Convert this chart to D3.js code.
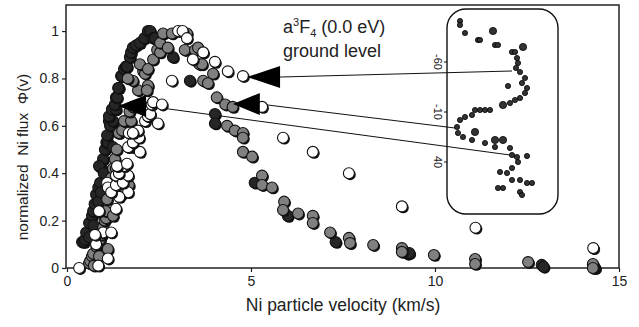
<!DOCTYPE html>
<html>
<head>
<meta charset="utf-8">
<script src="https://cdn.jsdelivr.net/npm/d3@7"></script>
<style>
  body { margin: 0; background: #fff; }
  svg { display: block; font-family: "Liberation Sans", Arial, sans-serif; }
</style>
</head>
<body>
<svg id="chart" width="639" height="327"></svg>
<script>
// values: [velocity km/s, normalized flux]
const blackPts = [
  [0.41,0.11],[0.46,0.11],[0.49,0.12],[0.52,0.15],[0.60,0.19],[0.60,0.13],[0.68,0.22],[0.71,0.24],
  [0.72,0.18],[0.75,0.27],[0.79,0.31],[0.85,0.34],[0.85,0.28],[0.90,0.36],[0.92,0.32],[0.95,0.42],
  [0.98,0.46],[0.87,0.43],[1.00,0.40],[1.03,0.50],[1.07,0.53],[1.11,0.53],[1.09,0.56],[1.14,0.62],
  [1.17,0.60],[1.25,0.62],[1.25,0.51],[1.14,0.64],[1.22,0.67],[1.33,0.67],[1.30,0.69],[1.33,0.72],
  [1.36,0.72],[1.41,0.76],[1.39,0.76],[1.47,0.81],[1.49,0.81],[1.55,0.84],[1.60,0.85],[1.63,0.85],
  [1.71,0.89],[1.74,0.91],[1.79,0.93],[1.88,0.94],[1.98,0.95],[2.10,0.97],[2.20,1.00],[2.26,1.00],
  [2.34,0.97],[2.39,0.97],[2.88,0.89],[3.34,0.79],[4.02,0.65],[4.02,0.61],[5.10,0.36],[6.00,0.22],
  [7.30,0.11],[9.25,0.06],[9.30,0.063],[12.90,0.013],[12.95,0.005],[14.35,0.0]
];
const grayPts = [
  [0.60,0.02],[0.63,0.03],[0.68,0.05],[0.71,0.06],[0.73,0.01],[0.80,0.09],[0.87,0.05],[0.90,0.12],
  [0.95,0.14],[0.98,0.17],[1.02,0.20],[1.06,0.21],[1.05,0.24],[1.11,0.08],[1.09,0.29],[1.25,0.22],
  [1.17,0.33],[1.20,0.38],[1.25,0.42],[1.33,0.42],[1.30,0.46],[1.35,0.50],[1.47,0.31],[1.39,0.57],
  [1.41,0.57],[1.50,0.58],[1.55,0.62],[1.68,0.35],[1.74,0.62],[1.79,0.51],[1.70,0.66],[1.79,0.68],
  [1.93,0.75],[1.79,0.79],[1.65,0.80],[2.07,0.83],[2.12,0.82],[1.98,0.86],[2.20,0.84],[2.34,0.88],
  [2.45,0.92],[2.53,0.91],[2.53,0.95],[2.61,0.99],[2.74,0.93],[2.85,0.99],[2.20,0.77],[2.17,0.75],
  [3.26,0.99],[3.20,0.92],[3.48,0.92],[3.56,0.93],[3.60,0.86],[3.67,0.86],[3.70,0.79],[3.83,0.78],
  [3.97,0.82],[4.07,0.72],[4.30,0.69],[4.50,0.68],[4.35,0.60],[4.56,0.58],[4.78,0.57],[4.78,0.55],
  [4.78,0.49],[5.03,0.47],[5.30,0.39],[5.30,0.35],[5.57,0.34],[5.90,0.28],[5.87,0.245],[6.28,0.23],
  [6.68,0.22],[6.68,0.19],[7.15,0.15],[7.66,0.127],[7.69,0.105],[8.32,0.097],[9.10,0.084],[9.10,0.068],
  [9.97,0.055],[11.09,0.038],[11.09,0.017],[12.53,0.025],[14.29,0.017],[14.29,0.0]
];
const whitePts = [
  [0.33,0.0],[0.85,0.01],[1.11,0.04],[0.79,0.10],[0.98,0.15],[1.20,0.15],[0.76,0.14],[0.87,0.24],
  [1.33,0.25],[1.66,0.32],[1.42,0.30],[1.09,0.36],[1.11,0.34],[1.20,0.32],[1.33,0.35],[1.33,0.39],
  [1.52,0.36],[1.66,0.39],[1.41,0.40],[1.55,0.43],[1.36,0.43],[1.63,0.44],[1.98,0.49],[1.66,0.51],
  [1.79,0.53],[1.68,0.57],[1.96,0.55],[1.93,0.58],[1.79,0.57],[2.12,0.62],[2.20,0.64],[2.26,0.65],
  [2.47,0.61],[2.30,0.69],[2.34,0.70],[2.58,0.69],[2.85,0.79],[3.02,1.00],[3.14,1.00],[3.26,0.97],
  [3.42,0.88],[3.70,0.91],[4.02,0.87],[4.37,0.83],[4.78,0.81],[5.30,0.68],[5.87,0.55],[6.68,0.49],
  [7.66,0.40],[9.10,0.26],[11.10,0.17],[14.30,0.084]
];

const xTicks = [0, 5, 10, 15];
const yTicks = [0, 0.2, 0.4, 0.6, 0.8, 1];
const yTickLabels = ["0", "0.2", "0.4", "0.6", "0.8", "1"];

// inset (image of the beam), position across box / delay
const insetSmall = [
  [13,-101],[13,-97],[18,-89],[31,-82],[33,-82],[48,-77],[51,-77],[65,-70],[68,-70],[70,-64],
  [71,-59],[69,-54],[73,-50],[78,-44],[75,-39],[80,-34],[78,-29],[61,-36],[73,-24],[68,-22],
  [63,-19],[43,-12],[38,-12],[33,-12],[28,-12],[25,-7],[18,-5],[13,-2],[10,5],[11,11],[16,15],
  [25,18],[38,21],[48,25],[63,26],[65,33],[70,35],[80,34],[71,40],[65,46],[53,50],[60,51],
  [65,58],[73,58],[80,61],[85,61],[51,66],[56,66],[73,70],[75,73]
];
const insetBig = [[46,-91],[76,-75],[56,-17],[28,10],[48,18],[56,18]];
const insetTicks = [-60, -10, 40];

// arrows: tip [v, f], base velocity, target point in the inset
const arrows = [
  { tip: [4.89, 0.806], base: 5.79, target: [65, -51] },
  { tip: [4.51, 0.692], base: 5.24, target: [8, 6] },
  { tip: [1.39, 0.684], base: 2.15, target: [63, 33] }
];

const svg = d3.select("#chart");

const xScale = d3.scaleLinear().domain([0, 15]).range([67, 619]);
const yScale = d3.scaleLinear().domain([0, 1.11]).range([268, 5]);

const insetX = d3.scaleLinear().domain([0, 111]).range([447, 558]);
const insetY = d3.scaleLinear().domain([-113, 92]).range([9, 214]);

// axes
const yAxis = svg.append("g")
  .attr("transform", `translate(${xScale(0) - 1},0)`)
  .call(d3.axisLeft(yScale).tickValues(yTicks).tickSize(4).tickPadding(3)
    .tickFormat((d, i) => yTickLabels[i]));
const xAxis = svg.append("g")
  .attr("transform", `translate(0,${yScale(0)})`)
  .call(d3.axisBottom(xScale).tickValues(xTicks).tickSize(4).tickPadding(4));

[xAxis, yAxis].forEach(a => {
  a.select(".domain").remove();
  a.selectAll("line").attr("stroke", "#222").attr("stroke-width", 1.2);
  a.selectAll("text").attr("font-size", 14).attr("fill", "#222")
    .style("font-family", "'Liberation Sans', Arial, sans-serif");
});

svg.append("rect")
  .attr("x", xScale(0) - 1).attr("y", yScale(1.11))
  .attr("width", xScale(15) - xScale(0) + 1).attr("height", yScale(0) - yScale(1.11))
  .attr("fill", "none").attr("stroke", "#222").attr("stroke-width", 1.5);

svg.append("text")
  .attr("x", (xScale(0) + xScale(15)) / 2).attr("y", 311)
  .attr("text-anchor", "middle").attr("font-size", 17.5).attr("fill", "#222")
  .text("Ni particle velocity (km/s)");

svg.append("text")
  .attr("transform", "translate(28,157) rotate(-90)")
  .attr("text-anchor", "middle").attr("font-size", 15.5).attr("fill", "#222")
  .style("white-space", "pre")
  .text("normalized  Ni flux  \u03A6(v)");

// leader lines under the points
svg.append("g").selectAll("line")
  .data(arrows)
  .join("line")
  .attr("x1", d => xScale(d.base)).attr("y1", d => yScale(d.tip[1]))
  .attr("x2", d => insetX(d.target[0])).attr("y2", d => insetY(d.target[1]))
  .attr("stroke", "#111").attr("stroke-width", 1);

// scatter, each marker with a dark offset shadow
const series = [
  { pts: blackPts, fill: "#262626" },
  { pts: grayPts, fill: "#808080" },
  { pts: whitePts, fill: "#ffffff" }
];
const r = 5.5;
series.forEach(s => {
  const g = svg.append("g").selectAll("g")
    .data(s.pts)
    .join("g")
    .attr("transform", d => `translate(${xScale(d[0])},${yScale(d[1])})`);
  g.append("circle").attr("cx", 1.4).attr("cy", 1.4).attr("r", r).attr("fill", "#111");
  g.append("circle").attr("r", r).attr("fill", s.fill)
    .attr("stroke", "#111").attr("stroke-width", 1.1);
});

// arrow heads
svg.append("g").selectAll("path")
  .data(arrows)
  .join("path")
  .attr("d", d => {
    const tx = xScale(d.tip[0]), ty = yScale(d.tip[1]), bx = xScale(d.base);
    return `M${tx},${ty}L${bx},${ty - 11}L${bx},${ty + 11}Z`;
  })
  .attr("fill", "#000");

// label
const lab = svg.append("text").attr("x", 283).attr("y", 33)
  .attr("font-size", 18).attr("fill", "#222");
lab.append("tspan").text("a");
lab.append("tspan").attr("font-size", 11).attr("dy", -7).text("3");
lab.append("tspan").attr("dy", 7).text("F");
lab.append("tspan").attr("font-size", 11).attr("dy", 4).text("4");
lab.append("tspan").attr("dy", -4).text(" (0.0 eV)");
svg.append("text").attr("x", 283).attr("y", 57)
  .attr("font-size", 18).attr("fill", "#222").text("ground level");

// inset
svg.append("rect")
  .attr("x", insetX(0)).attr("y", insetY(-113))
  .attr("width", insetX(111) - insetX(0)).attr("height", insetY(92) - insetY(-113))
  .attr("rx", 19).attr("fill", "none").attr("stroke", "#111").attr("stroke-width", 1.4);

const it = svg.append("g").selectAll("g")
  .data(insetTicks)
  .join("g")
  .attr("transform", d => `translate(${insetX(0)},${insetY(d)})`);
it.append("line").attr("x1", -3).attr("x2", 0).attr("stroke", "#111");
it.append("text")
  .attr("transform", "translate(-13,0) rotate(90)")
  .attr("text-anchor", "middle").attr("font-size", 11).attr("fill", "#222")
  .text(d => d);

svg.append("g").selectAll("circle")
  .data(insetSmall)
  .join("circle")
  .attr("cx", d => insetX(d[0])).attr("cy", d => insetY(d[1]))
  .attr("r", 2.6).attr("fill", "#333").attr("stroke", "#000").attr("stroke-width", 0.8);
svg.append("g").selectAll("circle")
  .data(insetBig)
  .join("circle")
  .attr("cx", d => insetX(d[0])).attr("cy", d => insetY(d[1]))
  .attr("r", 3.6).attr("fill", "#333").attr("stroke", "#000").attr("stroke-width", 0.8);
</script>
</body>
</html>
